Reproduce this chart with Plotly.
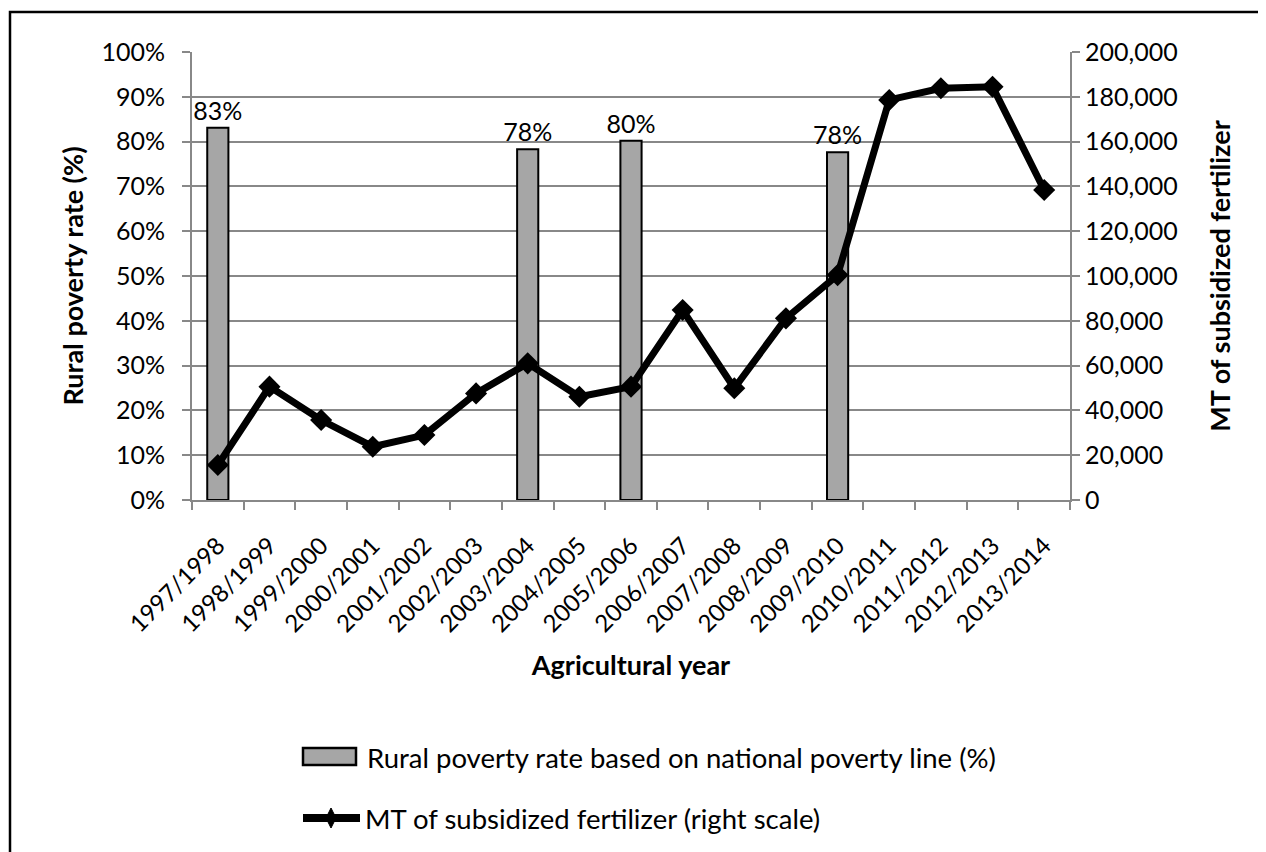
import plotly.graph_objects as go

years = ["1997/1998", "1998/1999", "1999/2000", "2000/2001", "2001/2002", "2002/2003",
         "2003/2004", "2004/2005", "2005/2006", "2006/2007", "2007/2008", "2008/2009",
         "2009/2010", "2010/2011", "2011/2012", "2012/2013", "2013/2014"]

poverty_years = ["1997/1998", "2003/2004", "2005/2006", "2009/2010"]
poverty_rate = [83.1, 78.3, 80.2, 77.6]

fertilizer_mt = [15600, 50600, 35700, 23800, 29000, 47600, 61000, 46100, 50600,
                 84800, 49900, 81100, 100400, 178600, 183800, 184500, 138400]

bar_name = "Rural poverty rate based on national poverty line (%)"
line_name = "MT of subsidized fertilizer (right scale)"

FONT = "Lato"
GRID = "#888888"
BAR = "#a6a6a6"

# plot area in figure pixels
L, R, T, B = 184, 1062, 44, 492
W, H = R - L, B - T


def px(x):
    return (x - L) / W


def py(y):
    return (B - y) / H


fig = go.Figure()

fig.add_trace(go.Bar(
    x=poverty_years, y=poverty_rate,
    name=bar_name,
    marker=dict(color=BAR, line=dict(color="black", width=2)),
    width=0.41,
    text=[f"{round(v)}%" for v in poverty_rate],
    textposition="outside",
    constraintext="none",
    textfont=dict(size=25, color="black", family=FONT),
    cliponaxis=False,
    showlegend=False,
))

fig.add_trace(go.Scatter(
    x=years, y=fertilizer_mt, yaxis="y2",
    name=line_name,
    mode="lines+markers",
    line=dict(color="black", width=7),
    marker=dict(symbol="diamond", size=17, color="black"),
    showlegend=False,
))

fig.update_layout(
    width=1266, height=852,
    margin=dict(l=L, r=1266 - R, t=T, b=852 - B),
    paper_bgcolor="white", plot_bgcolor="white",
    font=dict(family=FONT, size=24, color="black"),
    xaxis=dict(
        type="category", categoryorder="array", categoryarray=years,
        range=[-0.5, len(years) - 0.5],
        tickson="boundaries", ticks="outside", ticklen=8, tickwidth=2, tickcolor=GRID,
        showline=True, linecolor=GRID, linewidth=2,
        showgrid=False,
        tickangle=-45, tickfont=dict(size=24),
        ticklabelstandoff=20,
        title=dict(text="<b>Agricultural year</b>", font=dict(size=27), standoff=20),
    ),
    yaxis=dict(
        range=[0, 100], dtick=10, ticksuffix="%",
        showgrid=True, gridcolor=GRID, gridwidth=2,
        showline=True, linecolor=GRID, linewidth=2,
        ticks="outside", ticklen=8, tickwidth=2, tickcolor=GRID,
        tickfont=dict(size=25),
        ticklabelstandoff=12,
        zeroline=False,
        title=dict(text="<b>Rural poverty rate (%)</b>", font=dict(size=27), standoff=10),
    ),
    yaxis2=dict(
        range=[0, 200000], dtick=20000, tickformat=",d",
        overlaying="y", side="right",
        showgrid=False,
        showline=True, linecolor=GRID, linewidth=2,
        ticks="outside", ticklen=8, tickwidth=2, tickcolor=GRID,
        tickfont=dict(size=25),
        zeroline=False,
        title=dict(text="<b>MT of subsidized fertilizer</b>", font=dict(size=27), standoff=34),
    ),
)

# outer frame
fig.add_shape(type="rect", xref="paper", yref="paper",
              x0=px(2), x1=px(1275), y0=py(870), y1=py(4),
              line=dict(color="black", width=2.5), fillcolor="rgba(0,0,0,0)", layer="below")

# legend: bar entry
fig.add_shape(type="rect", xref="paper", yref="paper",
              x0=px(295), x1=px(348), y0=py(757), y1=py(740),
              line=dict(color="black", width=2.5), fillcolor=BAR)
fig.add_annotation(xref="paper", yref="paper", x=px(357), y=py(749),
                   xanchor="left", yanchor="middle", showarrow=False,
                   text=bar_name, font=dict(size=27.5, family=FONT, color="black"))

# legend: line entry
fig.add_shape(type="line", xref="paper", yref="paper",
              x0=px(295), x1=px(352), y0=py(810), y1=py(810),
              line=dict(color="black", width=8))
dx, dy = 5 / W, 10 / H
cx, cy = px(323), py(810)
fig.add_shape(type="path", xref="paper", yref="paper",
              path=f"M {cx} {cy + dy} L {cx + dx} {cy} L {cx} {cy - dy} L {cx - dx} {cy} Z",
              line=dict(color="black", width=1), fillcolor="black")
fig.add_annotation(xref="paper", yref="paper", x=px(355), y=py(810),
                   xanchor="left", yanchor="middle", showarrow=False,
                   text=line_name, font=dict(size=27.5, family=FONT, color="black"))

fig.write_html("out.html")
